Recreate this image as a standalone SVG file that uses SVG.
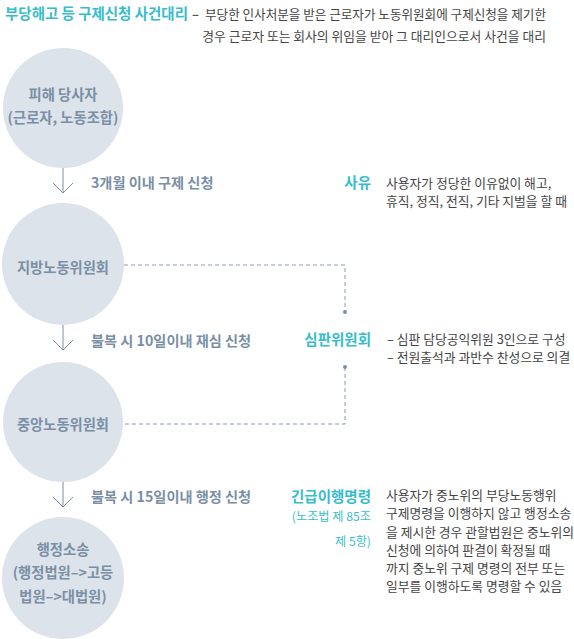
<svg xmlns="http://www.w3.org/2000/svg" width="574" height="639" viewBox="0 0 574 639">
<style>
text{font-family:"Noto Sans CJK KR","Noto Sans",sans-serif;}
.node circle{fill:#dde3ea;}
.nt{font-size:14.3px;font-weight:bold;fill:#7a8fa5;text-anchor:middle;}
.lbl{font-size:14.2px;font-weight:bold;fill:#7a8fa5;}
.teal{font-size:14.5px;font-weight:bold;fill:#36bdcb;}
.tsub{font-size:12.2px;fill:#36bdcb;text-anchor:end;}
.body{font-size:12.8px;fill:#444;}
.arr{stroke:#7a8fa5;stroke-width:1;fill:none;}
.dash{stroke:#8a9bb0;stroke-width:1;fill:none;stroke-dasharray:4 3;}
.dot{fill:#7a8fa5;}
</style>
<g id="header">
<text x="5" y="19" class="teal" textLength="183" lengthAdjust="spacingAndGlyphs">부당해고 등 구제신청 사건대리</text>
<text x="192" y="19" class="body" style="font-weight:bold;fill:#555">–</text>
<text x="205" y="19" class="body" textLength="341" lengthAdjust="spacingAndGlyphs">부당한 인사처분을 받은 근로자가 노동위원회에 구제신청을 제기한</text>
<text x="546" y="41" class="body" text-anchor="end">경우 근로자 또는 회사의 위임을 받아 그 대리인으로서 사건을 대리</text>
</g>
<g id="node-victim" class="node">
<circle cx="63" cy="108" r="60"/>
<text x="63" y="100" class="nt">피해 당사자</text>
<text x="63" y="123" class="nt">(근로자, 노동조합)</text>
</g>
<g id="node-local" class="node">
<circle cx="63" cy="264" r="61"/>
<text x="63" y="273" class="nt">지방노동위원회</text>
</g>
<g id="node-central" class="node">
<circle cx="63" cy="422" r="60"/>
<text x="63" y="430" class="nt">중앙노동위원회</text>
</g>
<g id="node-court" class="node">
<circle cx="63" cy="578" r="61"/>
<text x="63" y="555" class="nt">행정소송</text>
<text x="63" y="578" class="nt">(행정법원–&gt;고등</text>
<text x="63" y="602" class="nt">법원–&gt;대법원)</text>
</g>
<g id="connectors">
<path class="arr" d="M63 168V193M53 183L63 193L73 183"/>
<path class="arr" d="M63 325V350M53 340L63 350L73 340"/>
<path class="arr" d="M63 482V507M53 497L63 507L73 497"/>
<path class="dash" d="M124 265H345V312"/>
<path class="dash" d="M345 367V424H124"/>
<circle class="dot" cx="345" cy="312" r="2"/>
<circle class="dot" cx="345" cy="367" r="2"/>
</g>
<g id="labels">
<text x="91" y="188" class="lbl">3개월 이내 구제 신청</text>
<text x="91" y="346" class="lbl">불복 시 10일이내 재심 신청</text>
<text x="91" y="502" class="lbl">불복 시 15일이내 행정 신청</text>
</g>
<g id="reason">
<text x="371" y="188" class="teal" text-anchor="end">사유</text>
<text x="386" y="188" class="body">사용자가 정당한 이유없이 해고,</text>
<text x="386" y="206" class="body">휴직, 정직, 전직, 기타 지벌을 할 때</text>
</g>
<g id="committee">
<text x="371" y="345" class="teal" text-anchor="end">심판위원회</text>
<text x="387" y="344" class="body">– 심판 담당공익위원 3인으로 구성</text>
<text x="387" y="362" class="body">– 전원출석과 과반수 찬성으로 의결</text>
</g>
<g id="urgent">
<text x="371" y="502" class="teal" text-anchor="end">긴급이행명령</text>
<text x="371" y="521" class="tsub">(노조법 제 85조</text>
<text x="371" y="546" class="tsub">제 5항)</text>
<text x="386" y="500" class="body">사용자가 중노위의 부당노동행위</text>
<text x="386" y="518" class="body">구제명령을 이행하지 않고 행정소송</text>
<text x="386" y="537" class="body">을 제시한 경우 관할법원은 중노위의</text>
<text x="386" y="555" class="body">신청에 의하여 판결이 확정될 때</text>
<text x="386" y="573" class="body">까지 중노위 구제 명령의 전부 또는</text>
<text x="386" y="591" class="body">일부를 이행하도록 명령할 수 있음</text>
</g>
</svg>
